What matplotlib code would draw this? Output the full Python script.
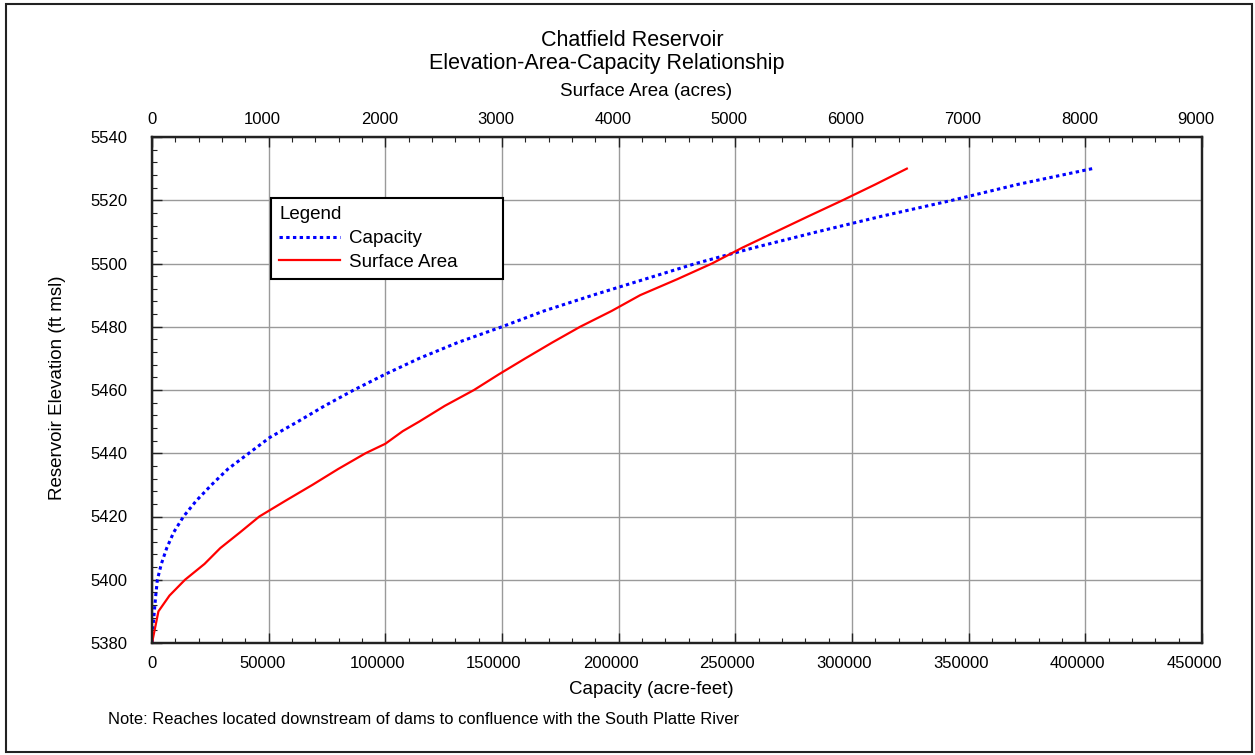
"""
Chatfield Reservoir elevation-area-capacity curves: capacity on the bottom
axis, surface area on a twin top axis, sharing the elevation axis.
"""

import matplotlib.pyplot as plt
from matplotlib.patches import Rectangle
from matplotlib.ticker import MultipleLocator
from matplotlib.transforms import ScaledTranslation

plt.rcParams["font.family"] = ["Liberation Sans", "DejaVu Sans"]

# Capacity curve (acre-feet vs ft msl)
cap_elev = [5380, 5385, 5390, 5395, 5400, 5405, 5410, 5415, 5420, 5425,
            5430, 5435, 5440, 5445, 5450, 5455, 5460, 5465, 5470, 5475,
            5480, 5485, 5490, 5495, 5500, 5505, 5510, 5515, 5520, 5525, 5530]
capacity = [0, 400, 1000, 1600, 2300, 4000, 6300, 9300, 13500, 19000,
            25500, 32500, 41500, 50500, 62500, 74000, 86500, 100000, 114500, 131000,
            150000, 168000, 189000, 211000, 233000, 258000, 285000, 313000, 343000, 371000, 403000]

# Surface area curve (acres vs ft msl)
area_elev = [5380, 5390, 5395, 5400, 5405, 5410, 5415, 5420, 5425, 5430,
             5435, 5440, 5443, 5447, 5450, 5455, 5460, 5465, 5470, 5475,
             5480, 5485, 5490, 5495, 5500, 5505, 5510, 5515, 5520, 5525, 5530]
area = [0, 55, 150, 283, 450, 585, 755, 920, 1145, 1375,
        1595, 1830, 2000, 2150, 2290, 2510, 2760, 2975, 3200, 3430,
        3670, 3940, 4185, 4500, 4800, 5060, 5345, 5630, 5920, 6200, 6470]

W, H = 1255, 755
fig = plt.figure(figsize=(W / 100, H / 100), dpi=100)

# outer frame around the whole page
fig.patches.append(Rectangle((6 / W, 3 / H), 1246 / W, 748 / H, transform=fig.transFigure,
                             fill=False, edgecolor="#222222", linewidth=1.5))

ax = fig.add_axes([152 / W, 1 - 643 / H, 1050 / W, 506 / H])
ax2 = ax.twiny()

cap_line, = ax.plot(capacity, cap_elev, color="#0000ff", lw=2.2, linestyle=(0, (1.1, 1.1)),
                    label="Capacity")
area_line, = ax2.plot(area, area_elev, color="#ff0000", lw=1.6, label="Surface Area")

ax.set_xlim(0, 450000)
ax.set_ylim(5380, 5540)
ax2.set_xlim(0, 9000)

ax.xaxis.set_major_locator(MultipleLocator(50000))
ax.xaxis.set_minor_locator(MultipleLocator(10000))
ax.yaxis.set_major_locator(MultipleLocator(20))
ax.yaxis.set_minor_locator(MultipleLocator(4))
ax2.xaxis.set_major_locator(MultipleLocator(1000))
ax2.xaxis.set_minor_locator(MultipleLocator(200))

ax.grid(which="major", color="#9a9a9a", lw=1.0)

ax.tick_params(which="both", direction="in", top=False, right=False, labelsize=12,
               colors="#222222", labelcolor="black")
ax.tick_params(which="major", length=7, width=1.0)
ax.tick_params(which="minor", length=3.5, width=0.8)
ax.tick_params(axis="x", which="major", pad=9.5)
ax.tick_params(axis="y", which="major", pad=17.5)
ax2.tick_params(which="both", direction="in", labelsize=12, colors="#222222", labelcolor="black")
ax2.tick_params(which="major", length=7, width=1.0, pad=7.5)
ax2.tick_params(which="minor", length=3.5, width=0.8)

for a in (ax, ax2):
    for s in a.spines.values():
        s.set_linewidth(1.6)
        s.set_color("#222222")

leg = ax2.legend(handles=[cap_line, area_line], title="Legend", loc="upper left",
                 bbox_to_anchor=(119 / 1050, 440 / 506, 232 / 1050, 5 / 506), mode="expand",
                 borderaxespad=0, fontsize=13.5, title_fontsize=13.5, alignment="left",
                 handlelength=3.25, handletextpad=0.45, labelspacing=0.35, borderpad=0.45,
                 fancybox=False, frameon=True, framealpha=1, edgecolor="black")
leg.get_frame().set_linewidth(1.5)

fig.text(632 / W, 1 - 40 / H, "Chatfield Reservoir", ha="center", va="center", fontsize=15.5)
fig.text(607 / W, 1 - 64 / H, "Elevation-Area-Capacity Relationship", ha="center", va="center",
         fontsize=15.5)
fig.text(646 / W, 1 - 92 / H, "Surface Area (acres)", ha="center", va="center", fontsize=13.5)
fig.text(651 / W, 1 - 689 / H, "Capacity (acre-feet)", ha="center", va="center", fontsize=13.5)
fig.text(58 / W, 1 - 388 / H, "Reservoir Elevation (ft msl)", ha="center", va="center",
         rotation=90, fontsize=13.5)
fig.text(108 / W, 1 - 720 / H, "Note: Reaches located downstream of dams to confluence with the South Platte River",
         ha="left", va="center", fontsize=11.9)

# the source nudges the wider x tick labels slightly left of their ticks
fig.canvas.draw()
for axis in (ax.xaxis, ax2.xaxis):
    for tick in axis.get_major_ticks():
        for lab in (tick.label1, tick.label2):
            n = len(lab.get_text())
            if n > 1:
                dx = -(6 if n < 6 else 8) / 100
                lab.set_transform(lab.get_transform() + ScaledTranslation(dx, 0, fig.dpi_scale_trans))

fig.savefig("out.png", dpi=100)
